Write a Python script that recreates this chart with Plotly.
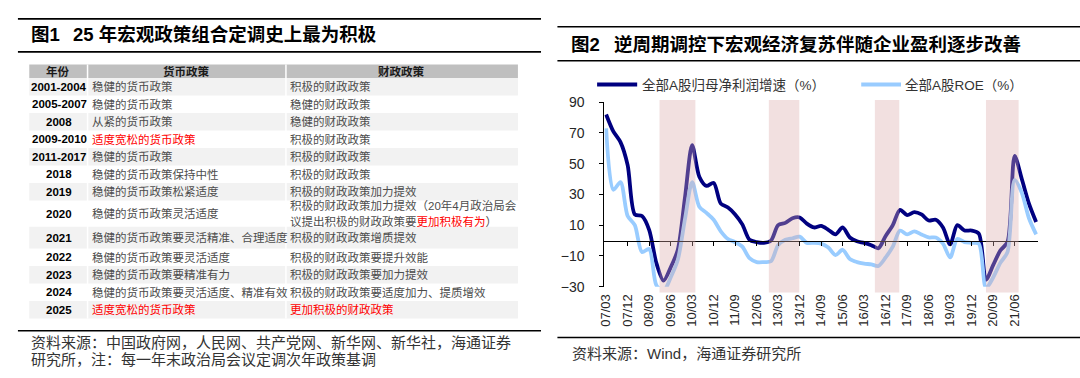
import plotly.graph_objects as go

W, H = 1080, 378

# ---------------- Figure 1: table data ----------------
YEARS = ["2001-2004", "2005-2007", "2008", "2009-2010", "2011-2017", "2018", "2019",
         "2020", "2021", "2022", "2023", "2024", "2025"]
MONETARY = ["稳健的货币政策", "稳健的货币政策", "从紧的货币政策", "适度宽松的货币政策",
            "稳健的货币政策", "稳健的货币政策保持中性", "稳健的货币政策松紧适度",
            "稳健的货币政策灵活适度", "稳健的货币政策要灵活精准、合理适度",
            "稳健的货币政策要灵活适度", "稳健的货币政策要精准有力",
            "稳健的货币政策要灵活适度、精准有效", "适度宽松的货币政策"]
FISCAL = ["积极的财政政策", "稳健的财政政策", "稳健的财政政策", "积极的财政政策",
          "积极的财政政策", "积极的财政政策", "积极的财政政策加力提效",
          "积极的财政政策加力提效（20年4月政治局会\n议提出积极的财政政策要更加积极有为）",
          "积极的财政政策增质提效", "积极的财政政策要提升效能", "积极的财政政策要加力提效",
          "积极的财政政策要适度加力、提质增效", "更加积极的财政政策"]
MONETARY_RED = ["", "", "", "适度宽松的货币政策", "", "", "", "", "", "", "", "", "适度宽松的货币政策"]
FISCAL_RED = ["", "", "", "", "", "", "", "更加积极有为", "", "", "", "", "更加积极的财政政策"]
HEADERS = ["年份", "货币政策", "财政政策"]

# ---------------- Figure 2: chart data ----------------
QUARTERS = ["07/03", "07/06", "07/09", "07/12", "08/03", "08/06", "08/09", "08/12",
            "09/03", "09/06", "09/09", "09/12", "10/03", "10/06", "10/09", "10/12",
            "11/03", "11/06", "11/09", "11/12", "12/03", "12/06", "12/09", "12/12",
            "13/03", "13/06", "13/09", "13/12", "14/03", "14/06", "14/09", "14/12",
            "15/03", "15/06", "15/09", "15/12", "16/03", "16/06", "16/09", "16/12",
            "17/03", "17/06", "17/09", "17/12", "18/03", "18/06", "18/09", "18/12",
            "19/03", "19/06", "19/09", "19/12", "20/03", "20/06", "20/09", "20/12",
            "21/03", "21/06", "21/09", "21/12", "22/03"]
PROFIT_GROWTH = [82, 71, 64, 49, 17, 16, 7, -14.5, -26, -17.5, -6, 28, 62, 41.5, 35.5, 37.5,
                 24, 21.5, 17, 10.5, 0.5, -1, -1.5, 0, 10, 11.5, 14.5, 15, 11, 8.5, 9.5, 7,
                 4, 8.5, 2, -0.5, -1.5, -3, -5, 3, 10, 20, 16.5, 18.5, 17, 13, 13.5, 8.5,
                 -2.5, 10, 6.5, 6.5, 4.5, -25.5, -16, -6.5, -1, 55, 40, 24, 12]
ROE = [73, 33, 38, 16, 10, -7.5, -5.5, -29, -33, -24, -12.5, 14, 38, 22, 18, 13.5,
       6, 1, -1, -4, -11.5, -14, -14, -13.5, -3, 0.5, 1.5, 2.5, -1.5, -1.5, -2, -4.5,
       -9.5, -6, -12, -14, -15, -15.5, -16.5, -11, -4, 6.5, 4, 6, 4, 2, 2, -2,
       -11, 1, -1, -1.5, -2, -31, -24, -14.5, -7.5, 39.5, 31, 14.5, 4]
TICK_LABELS = ["07/03", "07/12", "08/09", "09/06", "10/03", "10/12", "11/09", "12/06",
               "13/03", "13/12", "14/09", "15/06", "16/03", "16/12", "17/09", "18/06",
               "19/03", "19/12", "20/09", "21/06"]
SHADE_START = [7.45, 22.7, 37.5, 53.0]   # in quarter-index units
SHADE_END = [12.45, 26.95, 40.9, 57.55]
SERIES_NAMES = ["全部A股归母净利润增速（%）", "全部A股ROE（%）"]
SERIES_COLORS = ["#000080", "#99CCFF"]

# ---------------- helpers ----------------
def px(x):
    return x / W


def py(y):
    return 1 - y / H


CJK = "Liberation Sans, Noto Sans CJK SC, sans-serif"
fig = go.Figure()
shapes = []
ann = []


def text(x, y, t, size, color="#404040", xanchor="left", bold=False):
    if bold:
        t = "<b>" + t + "</b>"
    ann.append(dict(x=px(x), y=py(y), xref="paper", yref="paper", text=t, showarrow=False,
                    xanchor=xanchor, yanchor="middle", align="left",
                    font=dict(family=CJK, size=size, color=color)))


def hline(x0, x1, y, color="#000000", width=1.6):
    shapes.append(dict(type="line", xref="paper", yref="paper", x0=px(x0), x1=px(x1),
                       y0=py(y), y1=py(y), line=dict(color=color, width=width)))


def rect(x0, x1, y0, y1, color):
    shapes.append(dict(type="rect", xref="paper", yref="paper", x0=px(x0), x1=px(x1),
                       y0=py(y1), y1=py(y0), fillcolor=color, line=dict(width=0), layer="below"))


def red(t, part):
    if part:
        t = t.replace(part, "<span style='color:#FF0000'>" + part + "</span>")
    return t


BODY = "#4d4d4d"

# ---------------- left panel (table) ----------------
hline(12, 538, 11.4)
hline(12, 538, 45.8)
text(23.5, 27.5, "图1", 18.5, "#000000", bold=True)
text(65, 27.5, "25 年宏观政策组合定调史上最为积极", 18.5, "#000000", bold=True)

TL, TR = 23.4, 514.8
C1, C2 = 82.0, 281.5
HEAD_TOP, HEAD_BOT = 59.0, 73.0
rect(TL, TR, HEAD_TOP, HEAD_BOT, "#BFBFBF")
text((TL + C1) / 2, 66, HEADERS[0], 11.5, "#1a1a1a", "center", True)
text((C1 + C2) / 2, 66, HEADERS[1], 11.5, "#1a1a1a", "center", True)
text((C2 + TR) / 2, 66, HEADERS[2], 11.5, "#1a1a1a", "center", True)

row_h = [18.3] * 7 + [27.3, 22.7] + [18.3] * 4
top = HEAD_BOT
for i, yr in enumerate(YEARS):
    h = row_h[i]
    if i % 2 == 0:
        rect(TL, TR, top, top + h, "#F2F2F2")
    cy = top + h / 2
    text((TL + C1) / 2 + 1, cy, yr, 11.5, "#000000", "center", True)
    mcol = "#FF0000" if MONETARY_RED[i] == MONETARY[i] else BODY
    text(84.4, cy, MONETARY[i] if mcol == "#FF0000" else red(MONETARY[i], MONETARY_RED[i]), 11.5, mcol)
    lines = FISCAL[i].split("\n")
    fcol = "#FF0000" if FISCAL_RED[i] == FISCAL[i] else BODY
    for k, ln in enumerate(lines):
        ly = cy + (k - (len(lines) - 1) / 2) * 16.5
        text(284, ly, ln if fcol == "#FF0000" else red(ln, FISCAL_RED[i]), 11.5, fcol)
    top += h
TABLE_BOT = top
for cx in (C1, C2):
    shapes.append(dict(type="line", xref="paper", yref="paper", x0=px(cx), x1=px(cx),
                       y0=py(TABLE_BOT), y1=py(HEAD_TOP), line=dict(color="#FFFFFF", width=1.5)))

hline(12, 538, 337.0)
text(23.5, 349.0, "资料来源：中国政府网，人民网、共产党网、新华网、新华社，海通证券", 15, "#333333")
text(23.5, 367.5, "研究所，注：每一年末政治局会议定调次年政策基调", 15, "#333333")

# ---------------- right panel (chart) ----------------
hline(554.5, 1080, 19.6)
hline(554.5, 1080, 55.1)
text(566.5, 37.9, "图2", 18.5, "#000000", bold=True)
text(609.0, 37.9, "逆周期调控下宏观经济复苏伴随企业盈利逐步改善", 18.5, "#000000", bold=True)
hline(554.5, 1080, 344.0)
text(567.0, 360.6, "资料来源：Wind，海通证券研究所", 15, "#333333")

# legend
LEG = [(594.4, 634.7, 637.5), (860.0, 900.0, 902.5)]
for (l0, l1, tx), name, col in zip(LEG, SERIES_NAMES, SERIES_COLORS):
    shapes.append(dict(type="line", xref="paper", yref="paper", x0=px(l0), x1=px(l1),
                       y0=py(80), y1=py(80), line=dict(color=col, width=4)))
    text(tx, 80, name, 13.5, "#333333")

X0, X1 = 601.7, 1037.7
Y_TOP, Y_BOT = 98.3, 291.0
YMIN, YMAX = -30, 90
n = len(QUARTERS)
XR = [-0.25, n - 1 + 0.25]

for vals, col in zip([PROFIT_GROWTH, ROE], SERIES_COLORS):
    fig.add_trace(go.Scatter(x=QUARTERS, y=vals, mode="lines",
                             line=dict(color=col, width=3.8, shape="spline", smoothing=0.8),
                             showlegend=False, hoverinfo="skip"))
# carrier for the crossing (value 0) category axis line
fig.add_trace(go.Scatter(x=[0], y=[0], xaxis="x2", yaxis="y", mode="lines",
                         line=dict(width=0), showlegend=False, hoverinfo="skip"))

for s0, s1 in zip(SHADE_START, SHADE_END):
    shapes.append(dict(type="rect", xref="x", yref="paper", x0=s0, x1=s1,
                       y0=py(297), y1=py(96), fillcolor="rgba(219,172,172,0.37)",
                       line=dict(width=0), layer="above"))

ydom = [py(Y_BOT), py(Y_TOP)]
zero_pos = ydom[0] + (0 - YMIN) / (YMAX - YMIN) * (ydom[1] - ydom[0])
tick_idx = [QUARTERS.index(t) for t in TICK_LABELS if QUARTERS.index(t) > 0]

fig.update_layout(
    width=W, height=H, autosize=False,
    margin=dict(l=0, r=0, t=0, b=0),
    paper_bgcolor="#FFFFFF", plot_bgcolor="rgba(0,0,0,0)",
    showlegend=False,
    xaxis=dict(domain=[px(X0), px(X1)], type="category", range=XR,
               tickmode="array", tickvals=TICK_LABELS, ticktext=TICK_LABELS,
               tickangle=-90, showline=False, ticks="", showgrid=False, zeroline=False,
               tickfont=dict(family="Liberation Sans", size=13, color="#262626"),
               ticklabelstandoff=4, anchor="y"),
    xaxis2=dict(overlaying="x", anchor="free", position=zero_pos, type="linear", range=XR,
                tickmode="array", tickvals=tick_idx, showticklabels=False,
                ticks="outside", ticklen=4, tickcolor="#000000", tickwidth=1,
                showline=True, linecolor="#000000", linewidth=1,
                showgrid=False, zeroline=False),
    yaxis=dict(domain=ydom, range=[YMIN, YMAX], tickmode="array",
               tickvals=list(range(YMIN, YMAX + 1, 20)),
               showline=True, linecolor="#000000", linewidth=1,
               ticks="outside", ticklen=4, tickcolor="#000000",
               showgrid=False, zeroline=False, ticklabelstandoff=12,
               tickfont=dict(family="Liberation Sans", size=14, color="#262626")),
    shapes=shapes,
    annotations=ann,
)

fig.write_html("out.html", config={"displayModeBar": False},
               post_script="document.body.style.margin='0';document.body.style.overflow='hidden';")
